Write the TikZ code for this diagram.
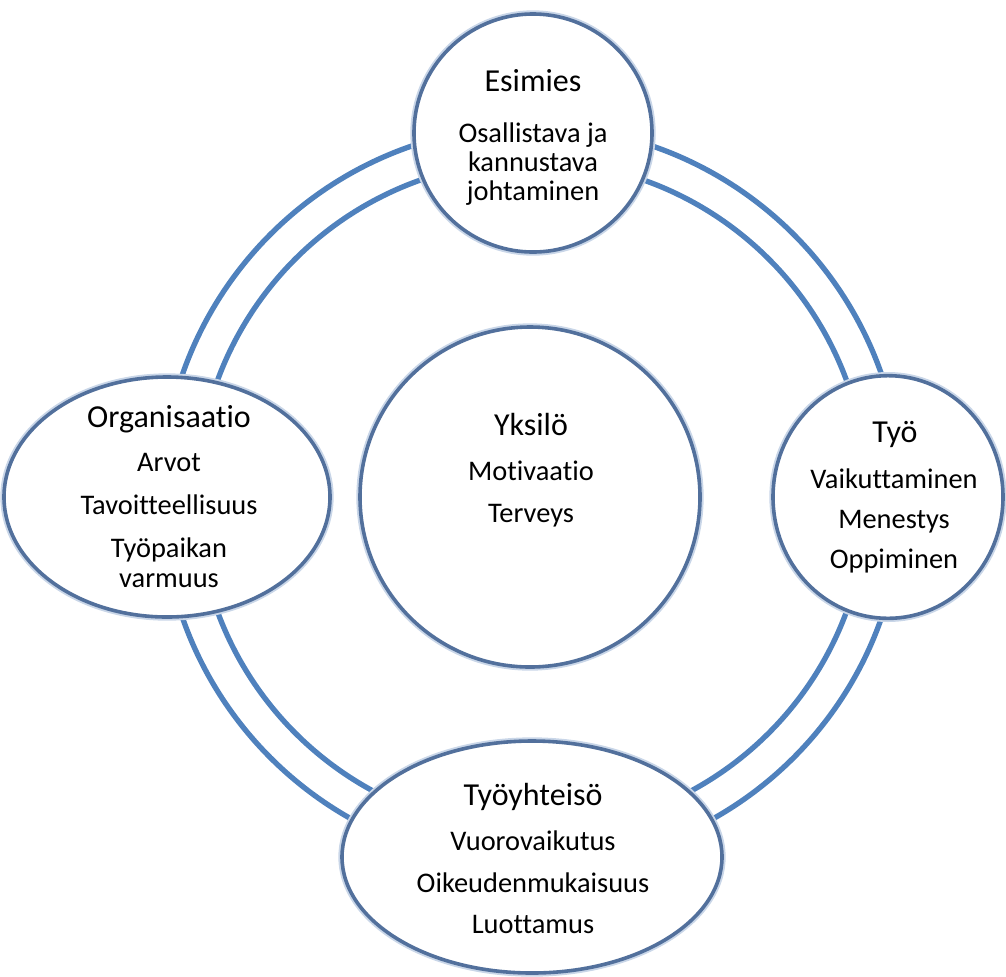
\documentclass[tikz,border=0pt]{standalone}
\usepackage{fontspec}
\setmainfont{Carlito}[Ligatures=NoCommon]
\usetikzlibrary{shapes.geometric}
\definecolor{ringblue}{HTML}{4F81BD}
\definecolor{edgeblue}{HTML}{52709C}
\definecolor{glowblue}{HTML}{C9D6E8}
\tikzset{
  ringline/.style={draw=ringblue, line width=4pt},
  bubble/.style={ellipse, draw=edgeblue, line width=2.7pt, fill=white, inner sep=0pt, outer sep=0pt,
    preaction={draw=glowblue, line width=5.5pt}},
  titletext/.style={anchor=base, inner sep=0pt, font=\fontsize{24}{27}\selectfont, text=black},
  bodytext/.style={anchor=base, inner sep=0pt, font=\fontsize{21.3}{24}\selectfont, text=black}
}
\begin{document}
\begin{tikzpicture}[x=0.75pt, y=-0.75pt]
\useasboundingbox (0,0) rectangle (1006,976);
% ring
\coordinate (ringc) at (532,496);
\draw[ringline] (ringc) circle [radius=277.5pt];
\draw[ringline] (ringc) circle [radius=251.25pt];
% centre bubble
\node[bubble, minimum width=255pt, minimum height=255pt] (yksilo) at (530,497) {};
% outer bubbles
\node[bubble, minimum width=178.5pt, minimum height=178.5pt] (esimies) at (533,133) {};
\node[bubble, minimum width=244.5pt, minimum height=180pt] (org) at (167,497) {};
\node[bubble, minimum width=172.5pt, minimum height=182pt] (tyo) at (888,497) {};
\node[bubble, minimum width=285pt, minimum height=174pt] (yhteiso) at (532,857) {};
% Esimies
\node[titletext] (esimies-t) at (533,91) {Esimies};
\node[bodytext] (esimies-1) at (533,142) {Osallistava ja};
\node[bodytext] (esimies-2) at (533,171) {kannustava};
\node[bodytext] (esimies-3) at (533,200) {johtaminen};
% Organisaatio
\node[titletext] (org-t) at (169,427) {Organisaatio};
\node[bodytext] (org-1) at (169,471) {Arvot};
\node[bodytext] (org-2) at (169,514) {Tavoitteellisuus};
\node[bodytext] (org-3) at (169,557) {Työpaikan};
\node[bodytext] (org-4) at (169,587) {varmuus};
% Yksilö
\node[titletext] (yksilo-t) at (531,435) {Yksilö};
\node[bodytext] (yksilo-1) at (531,480) {Motivaatio};
\node[bodytext] (yksilo-2) at (531,522) {Terveys};
% Työ
\node[titletext] (tyo-t) at (895,442) {Työ};
\node[bodytext] (tyo-1) at (894,488) {Vaikuttaminen};
\node[bodytext] (tyo-2) at (894,528) {Menestys};
\node[bodytext] (tyo-3) at (894,568) {Oppiminen};
% Työyhteisö
\node[titletext] (yhteiso-t) at (533,805) {Työyhteisö};
\node[bodytext] (yhteiso-1) at (533,850) {Vuorovaikutus};
\node[bodytext] (yhteiso-2) at (533,892) {Oikeudenmukaisuus};
\node[bodytext] (yhteiso-3) at (533,933) {Luottamus};
\end{tikzpicture}
\end{document}
